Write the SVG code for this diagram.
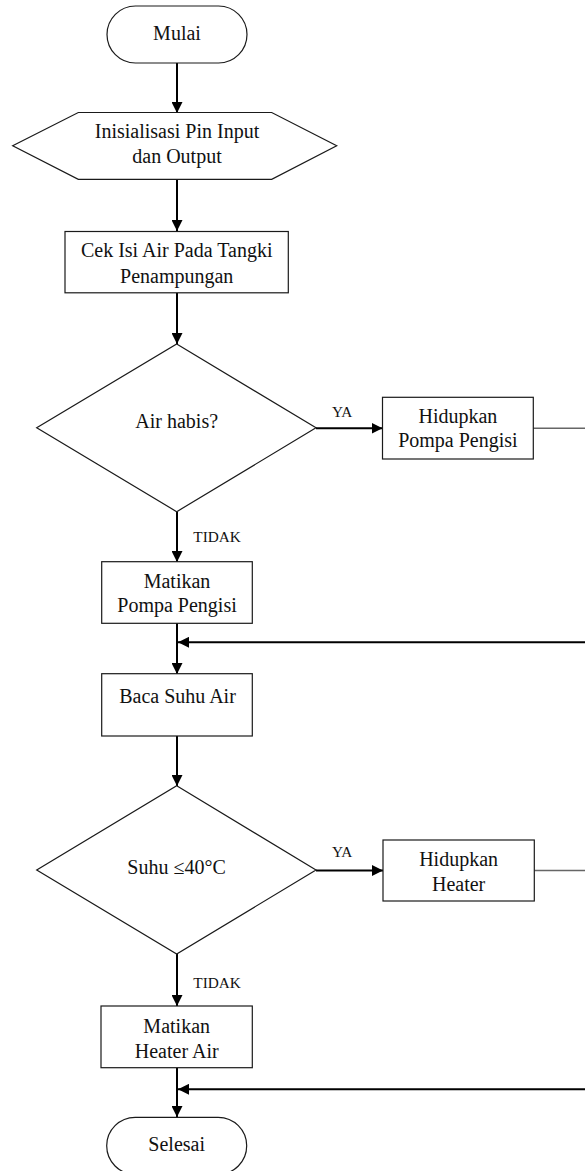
<svg xmlns="http://www.w3.org/2000/svg" width="585" height="1171" viewBox="0 0 585 1171">
<style>
.shape{fill:#fff;stroke:#1a1a1a;stroke-width:1.2}
.t{font-family:"Liberation Serif","Times New Roman",serif;font-size:20px;fill:#111;text-anchor:middle}
.lbl{font-family:"Liberation Serif","Times New Roman",serif;font-size:15.3px;fill:#111}
.flow{fill:none;stroke:#000;stroke-width:2}
.back{fill:none;stroke:#666;stroke-width:1.5}
</style>
<defs>
<marker id="ah" markerUnits="userSpaceOnUse" markerWidth="11" markerHeight="11" refX="11" refY="5.5" orient="auto">
<path d="M0,0 L11,5.5 L0,11 z" fill="#000"/>
</marker>
</defs>
<rect width="585" height="1171" fill="#fff"/>
<g id="connectors">
<line class="flow" x1="177" y1="63" x2="177" y2="113" marker-end="url(#ah)"/>
<line class="flow" x1="177" y1="179" x2="177" y2="231" marker-end="url(#ah)"/>
<line class="flow" x1="177" y1="293" x2="177" y2="344" marker-end="url(#ah)"/>
<line class="flow" x1="316" y1="428.3" x2="382.5" y2="428.3" marker-end="url(#ah)"/>
<line class="back" x1="533" y1="428.3" x2="600" y2="428.3"/>
<line class="flow" x1="177" y1="512" x2="177" y2="562" marker-end="url(#ah)"/>
<line class="flow" x1="177" y1="623" x2="177" y2="674" marker-end="url(#ah)"/>
<line class="flow" x1="600" y1="642.3" x2="178" y2="642.3" marker-end="url(#ah)"/>
<line class="flow" x1="177" y1="736" x2="177" y2="786" marker-end="url(#ah)"/>
<line class="flow" x1="316" y1="870.5" x2="383" y2="870.5" marker-end="url(#ah)"/>
<line class="back" x1="534" y1="870.5" x2="600" y2="870.5"/>
<line class="flow" x1="177" y1="954" x2="177" y2="1006" marker-end="url(#ah)"/>
<line class="flow" x1="177" y1="1068" x2="177" y2="1117" marker-end="url(#ah)"/>
<line class="flow" x1="600" y1="1089.3" x2="178" y2="1089.3" marker-end="url(#ah)"/>
<text class="lbl" x="332" y="416.7">YA</text>
<text class="lbl" x="193.3" y="541.7">TIDAK</text>
<text class="lbl" x="332" y="857.3">YA</text>
<text class="lbl" x="193.3" y="988.3">TIDAK</text>
</g>
<g id="mulai">
<rect class="shape" x="107" y="6" width="140" height="57" rx="28.5" ry="28.5"/>
<text class="t" x="177" y="40">Mulai</text>
</g>
<g id="inisialisasi">
<polygon class="shape" points="78.3,112.5 271.7,112.5 336.7,145.8 271.7,179.3 78.3,179.3 12.7,145.8"/>
<text class="t" x="177" y="138.3">Inisialisasi Pin Input</text>
<text class="t" x="177" y="163.3">dan Output</text>
</g>
<g id="cek-isi">
<rect class="shape" x="65" y="231.5" width="223.3" height="61.3"/>
<text class="t" x="176.7" y="257.3">Cek Isi Air Pada Tangki</text>
<text class="t" x="176.7" y="282.5">Penampungan</text>
</g>
<g id="air-habis">
<polygon class="shape" points="176.7,344 316,427.8 176.7,511.7 36.7,427.8"/>
<text class="t" x="176.7" y="428.3">Air habis?</text>
</g>
<g id="hidupkan-pompa">
<rect class="shape" x="382.5" y="397.3" width="150.8" height="61.7"/>
<text class="t" x="457.9" y="423.3">Hidupkan</text>
<text class="t" x="457.9" y="447.3">Pompa Pengisi</text>
</g>
<g id="matikan-pompa">
<rect class="shape" x="101.7" y="561.7" width="150.6" height="61.6"/>
<text class="t" x="177" y="588.3">Matikan</text>
<text class="t" x="177" y="611.7">Pompa Pengisi</text>
</g>
<g id="baca-suhu">
<rect class="shape" x="101.7" y="673.7" width="150.6" height="62.3"/>
<text class="t" x="177.5" y="703.3">Baca Suhu Air</text>
</g>
<g id="suhu">
<polygon class="shape" points="176.7,785.7 316,870 176.7,954 36.7,870"/>
<text class="t" x="176.5" y="874">Suhu ≤40°C</text>
</g>
<g id="hidupkan-heater">
<rect class="shape" x="383" y="840" width="151.3" height="61"/>
<text class="t" x="458.6" y="865.7">Hidupkan</text>
<text class="t" x="458.6" y="890.7">Heater</text>
</g>
<g id="matikan-heater">
<rect class="shape" x="101" y="1006" width="151.3" height="61.7"/>
<text class="t" x="176.7" y="1032.7">Matikan</text>
<text class="t" x="176.7" y="1057.7">Heater Air</text>
</g>
<g id="selesai">
<rect class="shape" x="106.7" y="1117.3" width="140" height="57" rx="28.5" ry="28.5"/>
<text class="t" x="176.7" y="1150.7">Selesai</text>
</g>
</svg>
